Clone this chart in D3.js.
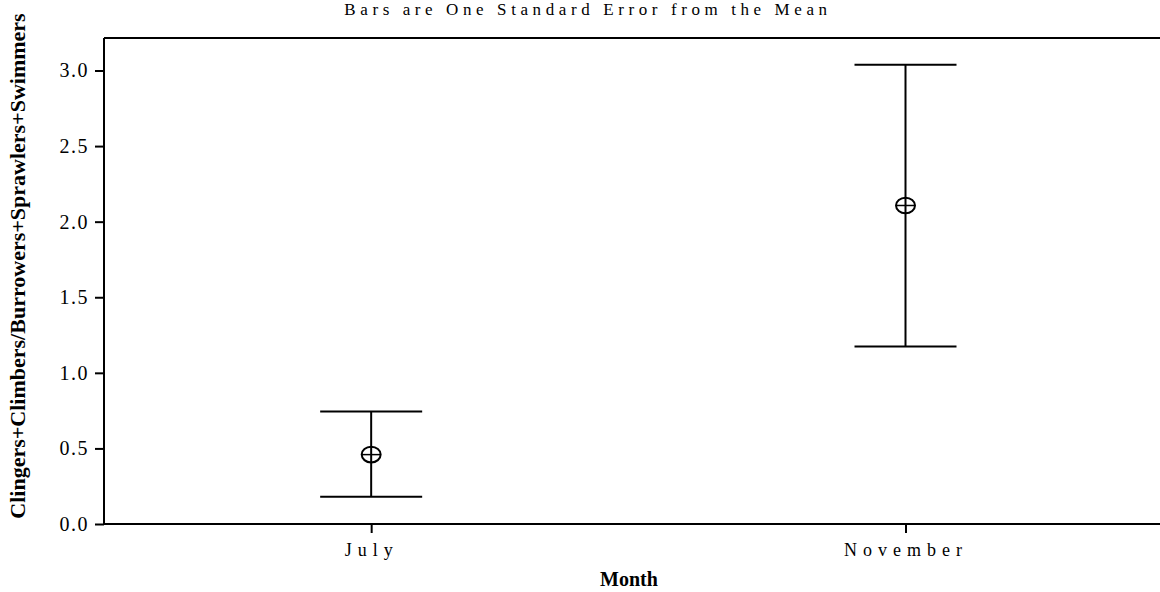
<!DOCTYPE html>
<html>
<head>
<meta charset="utf-8">
<script src="https://cdn.jsdelivr.net/npm/d3@7"></script>
<style>
  html, body { margin: 0; padding: 0; background: #fff; }
  svg { display: block; }
  text { font-family: "Liberation Serif", "Times New Roman", serif; fill: #000; }
</style>
</head>
<body>
<svg id="chart" width="1160" height="592"></svg>
<script>
const categories = ["July", "November"];
const means = [0.459, 2.107];
const upper = [0.744, 3.038];
const lower = [0.180, 1.175];
const yTicks = [0.0, 0.5, 1.0, 1.5, 2.0, 2.5, 3.0];
const titleText = "Bars are One Standard Error from the Mean";
const xTitle = "Month";
const yTitle = "Clingers+Climbers/Burrowers+Sprawlers+Swimmers";

const W = 1160, H = 592;
const m = { left: 104, right: 0, top: 38, bottom: 68 };
const svg = d3.select("#chart");
const iw = W - m.left - m.right, ih = H - m.top - m.bottom;
const g = svg.append("g").attr("transform", `translate(${m.left},${m.top})`);

const y = d3.scaleLinear().domain([0, 3.215]).range([ih, 0]);
const x = d3.scalePoint().domain(categories).range([iw * 0.253, iw * 0.759]);

const FONT = "Liberation Serif, Times New Roman, serif";

// top frame line
g.append("line").attr("x1", 0).attr("x2", iw).attr("y1", 0).attr("y2", 0)
  .attr("stroke", "#000").attr("stroke-width", 2);

const yAxis = g.append("g").call(d3.axisLeft(y).tickValues(yTicks).tickFormat(d3.format(".1f")).tickSize(9).tickPadding(6));
yAxis.select(".domain").attr("stroke-width", 2).attr("d", `M0,${ih}V0`);
yAxis.selectAll(".tick line").attr("stroke-width", 2);
yAxis.selectAll(".tick text").attr("font-size", 20).attr("letter-spacing", 1.5)
  .attr("font-family", FONT).attr("fill", "#000");

const xAxis = g.append("g").attr("transform", `translate(0,${ih})`)
  .call(d3.axisBottom(x).tickSize(9).tickPadding(10));
xAxis.select(".domain").attr("stroke-width", 2).attr("d", `M0,0H${iw}`);
xAxis.selectAll(".tick line").attr("stroke-width", 2);
xAxis.selectAll(".tick text").attr("font-size", 18).attr("letter-spacing", 6)
  .attr("font-family", FONT).attr("fill", "#000");

// error bars
const capHalf = 51;
const eb = g.selectAll(".eb").data(categories).enter().append("g").attr("class", "eb");
eb.append("line")
  .attr("x1", d => x(d)).attr("x2", d => x(d))
  .attr("y1", (d, i) => y(upper[i])).attr("y2", (d, i) => y(lower[i]))
  .attr("stroke", "#000").attr("stroke-width", 2);
eb.append("line")
  .attr("x1", d => x(d) - capHalf).attr("x2", d => x(d) + capHalf)
  .attr("y1", (d, i) => y(upper[i])).attr("y2", (d, i) => y(upper[i]))
  .attr("stroke", "#000").attr("stroke-width", 2);
eb.append("line")
  .attr("x1", d => x(d) - capHalf).attr("x2", d => x(d) + capHalf)
  .attr("y1", (d, i) => y(lower[i])).attr("y2", (d, i) => y(lower[i]))
  .attr("stroke", "#000").attr("stroke-width", 2);
eb.append("ellipse")
  .attr("cx", d => x(d)).attr("cy", (d, i) => y(means[i]))
  .attr("rx", 9.5).attr("ry", 7.8)
  .attr("fill", "none").attr("stroke", "#000").attr("stroke-width", 2);
eb.append("line")
  .attr("x1", d => x(d) - 9.5).attr("x2", d => x(d) + 9.5)
  .attr("y1", (d, i) => y(means[i])).attr("y2", (d, i) => y(means[i]))
  .attr("stroke", "#000").attr("stroke-width", 1.5);

// titles
svg.append("text").attr("x", 588).attr("y", 15).attr("text-anchor", "middle")
  .attr("font-family", FONT).attr("font-size", 17).attr("letter-spacing", 4.6).text(titleText);
svg.append("text").attr("x", 629).attr("y", 586).attr("text-anchor", "middle")
  .attr("font-family", FONT).attr("font-size", 20).attr("font-weight", "bold").text(xTitle);
svg.append("text").attr("transform", `translate(25,266) rotate(-90)`).attr("text-anchor", "middle")
  .attr("font-family", FONT).attr("font-size", 22).attr("font-weight", "bold").text(yTitle);
</script>
</body>
</html>
